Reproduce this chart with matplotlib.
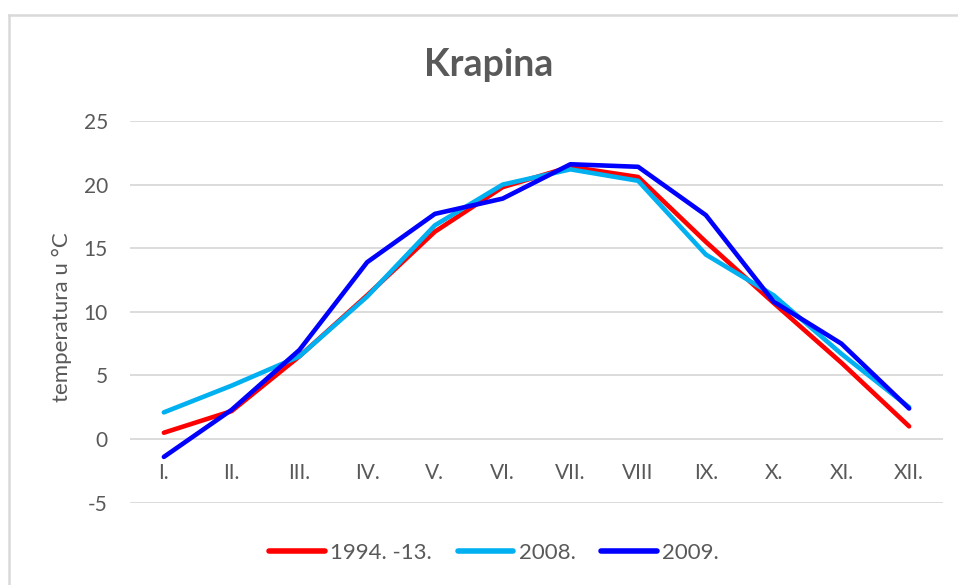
import matplotlib.pyplot as plt
from matplotlib.lines import Line2D

months = ["I.", "II.", "III.", "IV.", "V.", "VI.", "VII.", "VIII", "IX.", "X.", "XI.", "XII."]
avg_1994_13 = [0.5, 2.2, 6.5, 11.3, 16.3, 19.8, 21.4, 20.6, 15.5, 10.7, 6.0, 1.0]
t_2008 = [2.1, 4.2, 6.5, 11.2, 16.8, 20.0, 21.2, 20.3, 14.5, 11.3, 6.7, 2.5]
t_2009 = [-1.4, 2.3, 7.0, 13.9, 17.7, 18.9, 21.6, 21.4, 17.6, 10.8, 7.5, 2.4]

plt.rcParams["font.family"] = ["Lato", "DejaVu Sans"]
plt.rcParams["axes.unicode_minus"] = False
gray = "#595959"

fig = plt.figure(figsize=(9.58, 5.85), dpi=100)
ax = fig.add_axes([130 / 958, 1 - 502.7 / 585, (943 - 130) / 958, (502.7 - 121) / 585])

x = range(len(months))
ax.plot(x, avg_1994_13, color="#ff0000", lw=3.3, label="1994. -13.", solid_capstyle="round")
ax.plot(x, t_2008, color="#00b0f0", lw=3.3, label="2008.", solid_capstyle="round")
ax.plot(x, t_2009, color="#0000ff", lw=3.3, label="2009.", solid_capstyle="round")

ax.set_xlim(-0.5, 11.5)
ax.set_ylim(-5, 25)
ax.set_yticks([-5, 0, 5, 10, 15, 20, 25])
ax.set_xticks(list(x))
ax.set_xticklabels(months)
ax.yaxis.grid(True, color="#d9d9d9", lw=1.3)
ax.set_axisbelow(True)
for s in ax.spines.values():
    s.set_visible(False)
ax.spines["bottom"].set_position(("data", 0))
ax.tick_params(axis="both", length=0, colors=gray, labelsize=15)
ax.tick_params(axis="x", pad=17)
ax.tick_params(axis="y", pad=16)
ax.set_ylabel("temperatura u °C", color=gray, fontsize=16)
ax.yaxis.set_label_coords(-0.071, 0.485)

fig.text(489 / 958, 1 - 65 / 585, "Krapina", ha="center", va="center",
         fontsize=27, fontweight="bold", color=gray)

leg = fig.legend(loc="center", bbox_to_anchor=(494 / 958, 1 - 553 / 585), ncol=3,
                 frameon=False, fontsize=16, handlelength=2.5, handletextpad=0.25,
                 columnspacing=1.15)
for t in leg.get_texts():
    t.set_color(gray)
for h in leg.legend_handles:
    h.set_linewidth(4)

# chart frame (partially cropped in the screenshot)
fig.add_artist(Line2D([9 / 958, 9 / 958], [0, 1 - 15 / 585], color="#d9d9d9", lw=1.8))
fig.add_artist(Line2D([9 / 958, 1], [1 - 15 / 585, 1 - 15 / 585], color="#d9d9d9", lw=1.8))

fig.savefig("out.png", dpi=100)
